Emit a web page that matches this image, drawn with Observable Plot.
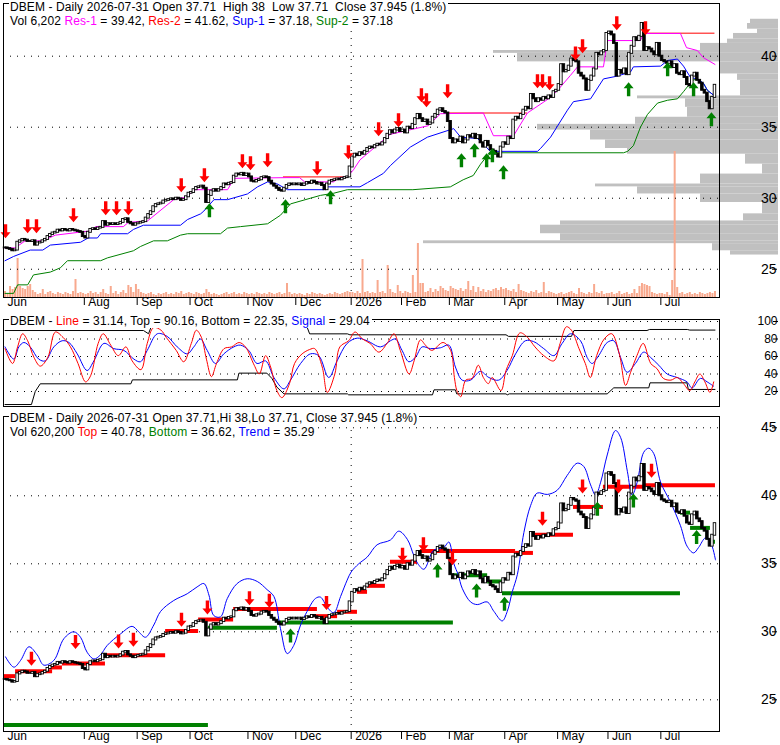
<!DOCTYPE html>
<html><head><meta charset="utf-8">
<script src="https://cdn.jsdelivr.net/npm/d3@7"></script>
<script src="https://cdn.jsdelivr.net/npm/@observablehq/plot@0.6"></script>
<style>
body{margin:0;background:#fff;}
#chart{position:relative;width:780px;height:745px;overflow:hidden;font-family:"Liberation Sans",Arial,sans-serif;background:#fff;}
.ttl{position:absolute;left:9px;font-size:12px;line-height:14px;white-space:pre;background:#fff;padding:0 2px 0 1px;color:#000;letter-spacing:0.1px;}
</style></head><body><div id="chart"></div><script>
// ---------- data ----------
const monthLabels = ["Jun","Jul","Aug","Sep","Oct","Nov","Dec","2026","Feb","Mar","Apr","May","Jun","Jul"];
const closeJun25 = [26.5,26.45,26.4,26.3,26.35,26.9,27.0,27.1,27.05,26.95];
const closeJul25 = [26.95,27.0,26.7,26.85,26.9,27.0,27.1,27.3,27.45,27.55,27.6,27.75,27.7,27.8,27.75,27.7,27.8,27.75,27.7,27.65,27.6,27.3];
const closeAug25 = [27.2,27.6,27.8,27.85,27.8,27.9,27.95,28.35,28.1,28.2,28.15,28.2,28.15,28.2,28.3,28.5,28.55,28.3,28.2,28.1,28.2];
const closeSep25 = [28.25,28.3,28.35,28.6,28.85,29.05,29.4,29.55,29.6,29.65,29.8,29.85,29.9,29.95,29.9,30.0,29.95,29.85,29.9,30.1,30.35];
const closeOct25 = [30.4,30.6,30.75,30.8,30.85,30.7,29.7,30.2,30.5,30.6,30.5,30.6,30.75,31.0,30.95,31.05,31.1,31.55,31.7,31.65,31.75,31.6,31.7];
const closeNov25 = [31.5,31.2,31.15,31.25,31.3,31.45,31.5,31.45,31.2,31.0,30.85,30.7,30.55,30.5,30.7,30.9,31.0,30.95,31.0];
const closeDec25 = [30.95,31.0,30.9,31.0,31.1,31.05,31.2,31.1,31.0,31.05,30.9,30.6,31.0,31.2,31.25,31.3,31.35,31.3,31.4,31.45,31.5,32.2];
const closeJan26 = [32.9,33.1,33.0,33.2,33.1,33.3,33.5,33.6,33.55,33.7,33.8,33.75,33.9,34.2,34.5,34.75,34.6,34.8,34.9,34.7];
const closeFeb26 = [34.8,34.6,35.0,34.9,35.2,35.6,35.9,35.6,35.4,35.5,35.2,35.3,35.7,35.9,36.2,36.3,36.1,36.0,35.4];
const closeMar26 = [34.2,33.9,34.1,34.0,34.3,33.9,34.1,34.4,34.3,34.5,34.2,34.4,33.9,33.6,34.0,33.7,33.4,33.3,33.1,32.9,33.6,33.9];
const closeApr26 = [33.8,34.3,34.2,35.5,35.7,35.6,35.9,36.2,36.4,36.3,37.3,37.0,36.8,37.0,36.9,37.1,37.0,37.2,37.1,37.5,37.6];
const closeMay26 = [38.0,39.4,38.9,39.0,39.3,39.8,39.7,39.6,38.8,38.6,38.4,37.6,38.3,38.6,39.1,40.2,40.1,40.3,40.4,41.6];
const closeJun26 = [41.7,41.5,40.9,38.6,39.0,38.8,39.1,38.7,40.2,40.7,41.3,41.1,41.4,42.3,40.4,40.6,40.5,40.3,40.1,40.9,40.0];
const closeJul26 = [39.7,39.6,39.5,39.6,39.2,39.4,38.8,38.7,38.9,38.5,38.0,37.9,38.6,38.8,38.3,38.1,37.6,37.4,36.8,36.3,37.1,37.95];

const volJun25 = [6,4,11,8,10,39,11,9,8,11];
const volJul25 = [13,7,5,3,4,8,3,5,6,4,3,5,4,3,5,4,3,6,18,4,5,4];
const volAug25 = [3,4,6,4,5,3,5,8,4,3,11,4,6,3,5,7,4,12,10,5,13];
const volSep25 = [8,5,4,3,4,5,3,2,4,3,4,5,3,4,3,5,4,6,3,4,5];
const volOct25 = [4,3,5,4,3,4,8,5,3,4,3,2,3,4,5,3,4,5,3,4,3,5,4];
const volNov25 = [3,4,3,5,4,3,4,3,5,4,3,4,5,3,4,14,5,3,4];
const volDec25 = [3,4,3,2,4,3,5,4,3,4,3,2,3,4,3,5,4,3,4,5,6,5];
const volJan26 = [5,4,6,4,38,5,6,4,5,4,17,5,6,4,32,8,5,4,12,6];
const volFeb26 = [4,6,5,4,22,5,54,14,14,5,6,9,5,8,6,11,9,7,6];
const volMar26 = [11,9,8,7,9,6,8,16,7,11,5,10,6,8,5,7,6,8,9,7,10,8];
const volApr26 = [9,7,6,8,5,13,7,6,5,4,6,5,7,4,5,15,4,6,5,4,3];
const volMay26 = [4,5,3,4,5,6,4,3,9,5,4,3,5,4,13,5,4,6,3,4];
const volJun26 = [4,5,3,4,6,3,4,5,3,4,8,4,11,14,13,12,11,5,4,3,4];
const volJul26 = [4,3,5,2,17,146,10,4,5,3,4,5,3,4,3,5,4,3,4,5,4,6];

// volume-by-price profile (price bin low / high, relative volume)
const vpLow  = [26.0,26.3,26.8,27.0,27.5,28.1,28.4,28.9,29.7,30.3,30.8,31.0,31.7,32.4,33.1,33.5,34.1,34.8,35.2,35.7,36.4,37.0,37.2,38.3,38.75,39.6,40.2,40.4,40.9,41.2,41.6,41.9,42.3];
const vpHigh = [26.3,26.8,27.0,27.5,28.1,28.4,28.9,29.7,30.3,30.8,31.0,31.7,32.4,33.1,33.5,34.1,34.8,35.2,35.7,36.4,37.0,37.2,38.3,38.75,39.6,40.2,40.4,40.9,41.2,41.6,41.9,42.3,42.6];
const vpVol  = [48,66,355,218,238,218,35,16,78,141,183,78,16,33,151,173,188,241,143,91,93,141,38,41,58,261,285,78,51,45,21,31,28];

// panel 1 overlays: [trading-day index, price]
const res1 = [[0,26.5],[4,26.5],[8,27.0],[15,27.0],[20,27.4],[34,27.7],[36,28.0],[47,28.0],[49,28.3],[56.6,28.4],[67,29.9],[72.5,30.1],[75,30.6],[88.4,30.6],[91,31.4],[112,31.45],[117,31.45],[119,31.15],[130.5,31.15],[133,31.45],[136,31.5],[138.4,32.0],[141,32.7],[147,33.6],[153,34.5],[168,35.1],[173,35.95],[190,36.0],[194,34.4],[202,34.4],[207.5,36.0],[216.7,37.1],[219.5,37.6],[224.6,38.65],[227.4,39.25],[237.7,39.25],[239.3,41.1],[252.4,41.1],[253.6,41.6],[268.3,41.6],[270.7,40.6],[275,40.4],[277.4,39.9],[282,39.42]];
const res2 = [[110.6,136,31.5],[175.8,207.5,36.0],[254,282,41.62]];
const sup1 = [[0,25.6],[3.4,25.9],[10,26.35],[15,26.35],[18,26.7],[30,26.9],[33,27.2],[36.7,27.2],[38,27.5],[48.7,27.5],[51,27.8],[55,28.1],[69.7,28.1],[72.5,28.5],[77.7,28.9],[79,29.1],[83,29.9],[88.4,29.9],[96.3,30.3],[100.3,30.8],[104.3,31.15],[108.2,31.0],[112.2,30.6],[126.5,30.6],[128,30.8],[141,30.8],[144,31.1],[150.3,31.75],[153.1,32.3],[161,33.6],[167.8,34.3],[178.2,34.9],[181,34.3],[187.7,34.2],[190,33.8],[192.8,33.3],[211.5,33.3],[212.7,33.5],[216.7,34.3],[223.4,36.2],[225.8,36.8],[232.6,37.0],[237.7,38.4],[243.3,38.6],[248.5,38.9],[249.6,39.25],[260.4,39.3],[263.2,39.7],[267.1,39.8],[269.5,39.3],[272.3,38.5],[275,38.4],[277.4,38.1],[279,37.6],[282,37.18]];
const sup2 = [[0,23.3],[3.4,23.3],[5,23.9],[9,23.9],[11.3,24.6],[18,24.8],[22,25.1],[24.8,25.6],[38,25.6],[40.7,25.8],[51,26.3],[53.8,26.6],[59,27.0],[64.5,27.0],[69.7,27.4],[72.5,27.5],[85.6,27.5],[88.4,27.9],[93.5,28.0],[104.3,28.2],[109.4,28.8],[113.4,29.6],[121.3,30.0],[125.3,30.2],[130.5,30.35],[136,30.6],[162,30.6],[176.9,30.8],[182,31.3],[186,31.6],[188.9,32.4],[191.6,33.0],[194,33.2],[245.7,33.2],[247.3,33.3],[249.6,33.7],[252.4,35.0],[255.2,35.9],[259.2,36.7],[263.2,36.9],[267.1,37.0],[269.5,37.5],[271.5,37.95],[273,38.3],[275,38.4],[277.4,38.1],[279,37.6],[282,37.18]];
const sellArrows1 = [[0.2,27.18],[9,27.54],[12.5,27.54],[27.2,28.31],[40,28.8],[44.3,28.8],[49,28.8],[70,30.42],[79.2,31.13],[94.3,32.11],[97.5,31.97],[104.3,32.18],[124,31.62],[136.4,32.75],[148.4,34.37],[156.3,35.0],[165.4,36.76],[167.4,36.4],[175.8,37.04],[211.5,37.75],[213.5,37.75],[216.3,37.6],[226.6,39.7],[229.4,40.2],[243,41.83],[254.4,41.48]];
const buyArrows1 = [[81.2,29.65],[111.4,29.93],[129.3,30.56],[181.3,33.17],[186.5,33.87],[191.3,33.17],[193.6,33.52],[198,32.32],[247.7,38.17],[263.2,39.58],[273.5,38.17],[280.6,36.06]];

// panel 2 oscillator: [index, value]
const oscLine = [[0,69],[3,52],[5,71],[7,86],[9,78],[11.5,59],[14,49],[17,59],[20,88],[23,82],[26,71],[29,52],[32,31],[34,38],[37,75],[39,86],[42,73],[45,61],[48,71],[50.5,55],[54,45],[56.5,75],[59,93],[62,90],[64,82],[68,67],[71,54],[74,75],[76,90],[78,82],[80,57],[82,37],[84,52],[87,69],[90,71],[93,76],[95.5,71],[99,50],[101,40],[103.5,61],[105.5,48],[108,21],[110,13],[113,29],[115,52],[118,63],[121,68],[123,69],[126,48],[128,19],[131,40],[133,71],[136.5,78],[139,88],[142,80],[145,75],[148.5,65],[152,76],[154.5,86],[157,67],[160.5,40],[162.5,55],[165,79],[167,73],[169.5,67],[174,76],[177,67],[178.5,36],[179.5,21],[181,14],[183,33],[185.5,35],[188,50],[190,36],[192,29],[193.5,36],[197,21],[199,44],[201.5,61],[204.5,87],[207.5,82],[210.5,71],[214,61],[218,55],[220.5,75],[223,94],[225,90],[228,69],[230.5,52],[232.5,36],[235,61],[238,80],[241,86],[244,63],[246.5,27],[248.5,42],[251,61],[253.5,75],[256.5,52],[259,46],[261.5,35],[264.5,33],[267,36],[269.5,29],[272,21],[274,31],[276,40],[278,31],[280,19],[281.5,31]];
const oscSignal = [[0,71],[3.5,57],[5.5,71],[7.5,76],[10,71],[13.4,57],[16,55],[19.4,71],[22.7,78],[25.4,76],[28.7,63],[32.6,44],[35.3,55],[39.3,75],[43.2,69],[47.2,67],[51.2,57],[53.8,54],[56.5,67],[60.5,86],[64.4,83],[68.4,71],[72.4,63],[75,71],[77.6,80],[80.3,67],[83.6,52],[86.9,63],[90.9,71],[93.5,73],[96.8,67],[100.1,52],[103.5,55],[106.8,36],[110.8,23],[113.4,33],[117.4,52],[121.3,63],[124.6,61],[128.6,36],[131.9,55],[135.9,75],[139.9,81],[143.8,78],[149.2,71],[153.1,78],[155.1,80],[157.7,67],[160.4,54],[163,59],[165.7,71],[169,69],[173,70],[176.3,73],[178.9,48],[181.6,33],[184.9,33],[188.8,43],[192.2,36],[196.1,33],[199.4,44],[202.8,63],[206.7,78],[210,77],[214,69],[218,61],[221.3,75],[224.6,86],[228.6,78],[231.2,59],[233.2,52],[235.8,61],[239.2,76],[241.8,78],[244.5,59],[247.1,42],[250.4,52],[253.7,65],[256.4,59],[259.7,50],[263,40],[267,36],[270.9,31],[272.9,24],[276.2,35],[278.9,31],[281.5,26]];
const oscTop = [[0,89.7],[55,89.7],[57,86],[58,93.5],[120,93.5],[121,85.9],[136,85.9],[137,84.8],[199,84.8],[200,83],[225,83],[226,89.7],[255,89.7],[256,90.9],[271,90.9],[272,90.2],[282,90.2]];
const oscBottom = [[0,5.1],[10.5,5.1],[12,20],[14,28.8],[50,28.8],[50.6,33.3],[92.3,33.3],[92.9,41],[104,41],[106,35],[108,25],[110.8,17.3],[136,17.3],[136.5,16.2],[169.8,16.2],[170.4,21.9],[178.9,21.9],[179.4,17.3],[199,17.3],[199.5,16.2],[200.3,17.3],[239.2,17.3],[241.8,24.2],[255.7,24.2],[256.2,29.9],[270.9,29.9],[271.4,22.35],[282,22.35]];

// panel 3 overlays
const trend = [[0.2,28.16],[3.5,27.4],[6.2,27.9],[9.5,28.9],[12.8,28.3],[15.4,27.55],[19.4,27.9],[23.4,29.5],[27.3,30.0],[30,29.6],[32.6,28.5],[35.3,28.0],[37.9,28.3],[40.6,29.0],[45.9,29.85],[50.5,30.4],[53.1,30.0],[55.8,29.6],[59.1,30.5],[61.8,31.5],[67,32.3],[72.4,32.8],[76.3,33.3],[79,33.55],[81,32.7],[82.9,31.2],[85.6,31.1],[88.3,32.45],[92.2,33.55],[96.2,33.9],[100.2,33.7],[104.1,33.1],[106.8,32.6],[109.4,30.25],[112.1,28.4],[114.7,29.0],[117.4,30.5],[120,31.5],[123.3,32.45],[125.3,32.55],[128,31.8],[130.6,31.4],[133.3,32.6],[135.9,33.8],[137.5,34.4],[140.5,35.0],[143.9,35.5],[147.8,36.4],[153.1,36.75],[156.4,37.4],[159.8,36.8],[162.4,35.6],[164,35.0],[166.4,34.6],[170.3,36.0],[174.3,36.2],[176.3,36.6],[178.3,35.0],[180,34.2],[181.6,33.2],[184.9,32.2],[187.6,32.0],[191.5,32.2],[194.2,31.5],[197.5,30.8],[199.5,31.5],[201.5,32.95],[203.5,34.2],[206.1,37.3],[208.8,39.3],[211.4,40.2],[215.4,40.1],[219.3,40.4],[223.3,41.5],[227.3,42.4],[229.9,42.15],[232.6,40.8],[234.6,40.05],[236.6,41.0],[239.2,43.0],[242.5,44.8],[244.5,44.3],[247.2,41.8],[249.1,40.05],[251.1,41.0],[253.7,43.2],[255.7,43.5],[257.7,43.1],[260.4,41.0],[264.3,39.55],[268.3,37.8],[270.9,36.3],[273.5,35.8],[275.5,36.2],[278.2,36.9],[280.2,36.6],[282.2,35.29]];
const topLevels = [[-0.6,4.2,26.74],[4.2,18.9,27.1],[18.1,22.8,27.38],[22.8,39.9,27.67],[39.9,63.8,28.28],[63.8,76.9,30.05],[76.9,90.8,30.9],[90.8,124.1,31.67],[123.3,132.1,31.15],[132.1,140,31.47],[140,144,32.94],[144,151.1,33.38],[153.1,163.8,35.15],[165,202.8,35.95],[202.8,209.9,35.8],[209.9,225.8,37.14],[225.8,237.7,39.18],[237.7,253.6,40.67],[253.6,282.2,40.78]];
const bottomLevels = [[-0.6,80.8,23.14],[80.8,108.2,30.29],[108.2,178.1,30.69],[178.1,191.7,34.15],[191.7,197.6,33.7],[197.6,268.3,32.83],[268.3,272.3,38.76],[272.3,280.2,37.64],[280.2,282.2,36.62]];
const sellArrows3 = [[10.5,27.5],[28,28.73],[45.1,28.78],[51,28.9],[70.1,30.37],[80.4,31.28],[97.1,31.96],[105,31.76],[127.7,31.6],[157.9,35.15],[166.2,35.93],[177.7,34.9],[213.5,37.8],[229.4,40.17],[243.7,40.17],[256.8,41.32]];
const buyArrows3 = [[113.4,30.25],[171.8,35.03],[187.3,33.56],[198.4,32.57],[235.3,39.56],[249.6,40.17],[274.7,37.48]];

// ---------- derived tables ----------
const closeMonths = [closeJun25,closeJul25,closeAug25,closeSep25,closeOct25,closeNov25,closeDec25,closeJan26,closeFeb26,closeMar26,closeApr26,closeMay26,closeJun26,closeJul26];
const volMonths = [volJun25,volJul25,volAug25,volSep25,volOct25,volNov25,volDec25,volJan26,volFeb26,volMar26,volApr26,volMay26,volJun26,volJul26];
const closes = closeMonths.flat();
const volumes = volMonths.flat();
const bars = closes.map((c, i) => ({i, open: i ? closes[i - 1] : c, close: c, vol: volumes[i] ?? 0}));
let cum = 0;
const monthStart = closeMonths.map(m => { const s = cum; cum += m.length; return s; });
const xDom = [-0.6, closes.length + 0.8];
const labelsData = [{pos: xDom[0], label: monthLabels[0]}].concat(
  monthStart.map((s, k) => ({pos: s - 0.5, label: monthLabels[k]})).slice(2));
const tickPos = labelsData.slice(1).map(d => d.pos);
const newYear = monthStart[7] - 0.5;
const vp = vpLow.map((lo, k) => ({lo, hi: vpHigh[k], v: vpVol[k]}));

// ---------- helpers ----------
const arrowDown = {draw(c){c.moveTo(0,0);c.lineTo(-5,-6);c.lineTo(-1.7,-6);c.lineTo(-1.7,-14);c.lineTo(1.7,-14);c.lineTo(1.7,-6);c.lineTo(5,-6);c.closePath();}};
const arrowUp = {draw(c){c.moveTo(0,0);c.lineTo(-5,6);c.lineTo(-1.7,6);c.lineTo(-1.7,14);c.lineTo(1.7,14);c.lineTo(1.7,6);c.lineTo(5,6);c.closePath();}};
const RED = "#ff0000", GREEN = "#008000", BLUE = "#0000ff", MAG = "#ff00ff";
const font = {fontFamily: "'Liberation Sans', Arial, sans-serif", fontSize: "12px", background: "transparent", overflow: "visible"};
const chart = document.getElementById("chart");
function place(svg, top) { svg.style.position = "absolute"; svg.style.left = "0px"; svg.style.top = top + "px"; chart.appendChild(svg); }
const X = d => d[0], Y = d => d[1];
const grid = (vals) => Plot.ruleY(vals, {stroke: "#000", strokeDasharray: "1,6"});
const candles = () => Plot.rect(bars, {x1: d => d.i - 0.5, x2: d => d.i + 0.5, y1: "open", y2: "close", insetTop: -0.5, insetBottom: -0.5,
  fill: d => d.close >= d.open ? "#fff" : "#000", stroke: "#000", strokeWidth: 0.9});
const monthAxis = () => [
  Plot.axisX({ticks: tickPos, tickSize: 8, tickFormat: () => "", label: null, stroke: "#000"}),
  Plot.text(labelsData, {x: "pos", text: "label", frameAnchor: "bottom", dx: 4, dy: 8, textAnchor: "start", fontSize: 12, fill: "#000"})
];
const rightAxis = (ticks, fs, dx) => Plot.axisY({ticks, anchor: "right", tickSize: 5, tickPadding: 0, textAnchor: "end", dx, fontSize: fs, label: null, tickFormat: d => String(d)});

const P1 = {width: 780, height: 312, marginTop: 3, marginBottom: 15};
const yP1 = [23.01, 43.71];

// ---------- panel 1: volume-by-price ----------
place(Plot.plot({...P1, marginLeft: 0, marginRight: 2, style: font,
  x: {domain: [0, 778], reverse: true, axis: null}, y: {domain: yP1, axis: null},
  marks: [Plot.rect(vp, {x1: 0, x2: "v", y1: "lo", y2: "hi", fill: "#c0c0c0"})]}), 0);

// ---------- panel 1: volume ----------
place(Plot.plot({...P1, marginLeft: 3, marginRight: 61, style: font,
  x: {domain: xDom, axis: null}, y: {domain: [0, 294], axis: null},
  marks: [Plot.ruleX(bars, {x: "i", y1: 0, y2: "vol", stroke: "#f8a98e", strokeWidth: 2})]}), 0);

// ---------- panel 1: price ----------
place(Plot.plot({...P1, marginLeft: 3, marginRight: 61, style: font,
  x: {domain: xDom}, y: {domain: yP1},
  marks: [
    grid([25, 30, 35, 40]),
    Plot.ruleX([newYear], {stroke: "#000", strokeDasharray: "1,6"}),
    Plot.line(sup2, {x: X, y: Y, stroke: GREEN, strokeWidth: 1}),
    Plot.line(sup1, {x: X, y: Y, stroke: BLUE, strokeWidth: 1}),
    Plot.ruleY(res2, {x1: d => d[0], x2: d => d[1], y: d => d[2], stroke: RED, strokeWidth: 1}),
    Plot.line(res1, {x: X, y: Y, stroke: MAG, strokeWidth: 1}),
    candles(),
    Plot.dot(sellArrows1, {x: X, y: Y, symbol: arrowDown, fill: RED, stroke: "none", r: 5}),
    Plot.dot(buyArrows1, {x: X, y: Y, symbol: arrowUp, fill: GREEN, stroke: "none", r: 5}),
    Plot.frame({stroke: "#000"}),
    rightAxis([25, 30, 35, 40], 14, 52),
    ...monthAxis()
  ]}), 0);

// ---------- panel 2: oscillator ----------
place(Plot.plot({width: 780, height: 98, marginTop: 7, marginBottom: 4, marginLeft: 3, marginRight: 61, style: font,
  x: {domain: xDom}, y: {domain: [2.86, 102.3]},
  marks: [
    grid([20, 40, 60, 80, 100]),
    Plot.line(oscTop, {x: X, y: Y, stroke: "#000", strokeWidth: 1}),
    Plot.line(oscBottom, {x: X, y: Y, stroke: "#000", strokeWidth: 1}),
    Plot.line(oscSignal, {x: X, y: Y, stroke: BLUE, strokeWidth: 1, curve: "catmull-rom"}),
    Plot.line(oscLine, {x: X, y: Y, stroke: RED, strokeWidth: 1, curve: "catmull-rom"}),
    Plot.frame({stroke: "#000"}),
    rightAxis([20, 40, 60, 80, 100], 12, 53),
    Plot.axisX({ticks: [], label: null})
  ]}), 312);

// ---------- panel 3: price with levels ----------
place(Plot.plot({width: 780, height: 340, marginTop: 11, marginBottom: 14, marginLeft: 3, marginRight: 61, style: font,
  x: {domain: xDom}, y: {domain: [22.67, 45.83]},
  marks: [
    grid([25, 30, 35, 40, 45]),
    Plot.ruleX([newYear], {stroke: "#000", strokeDasharray: "1,6"}),
    Plot.ruleY(bottomLevels, {x1: d => d[0], x2: d => d[1], y: d => d[2], stroke: GREEN, strokeWidth: 4}),
    Plot.ruleY(topLevels, {x1: d => d[0], x2: d => d[1], y: d => d[2], stroke: RED, strokeWidth: 4}),
    Plot.line(trend, {x: X, y: Y, stroke: BLUE, strokeWidth: 1, curve: "catmull-rom"}),
    candles(),
    Plot.dot(sellArrows3, {x: X, y: Y, symbol: arrowDown, fill: RED, stroke: "none", r: 5}),
    Plot.dot(buyArrows3, {x: X, y: Y, symbol: arrowUp, fill: GREEN, stroke: "none", r: 5}),
    Plot.frame({stroke: "#000"}),
    rightAxis([25, 30, 35, 40, 45], 14, 52),
    ...monthAxis()
  ]}), 405);

// ---------- titles ----------
function title(top, html) { const d = document.createElement("div"); d.className = "ttl"; d.style.top = top + "px"; d.innerHTML = html; chart.appendChild(d); }
const c = (col, t) => `<span style="color:${col}">${t}</span>`;
title(0, "DBEM - Daily 2026-07-31 Open 37.71  High 38  Low 37.71  Close 37.945 (1.8%)");
title(13.5, `Vol 6,202 ${c(MAG,"Res-1")} = 39.42, ${c(RED,"Res-2")} = 41.62, ${c(BLUE,"Sup-1")} = 37.18, ${c(GREEN,"Sup-2")} = 37.18`);
title(314, `DBEM - ${c(RED,"Line")} = 31.14, Top = 90.16, Bottom = 22.35, ${c(BLUE,"Signal")} = 29.04`);
title(411, "DBEM - Daily 2026-07-31 Open 37.71,Hi 38,Lo 37.71, Close 37.945 (1.8%)");
title(424.5, `Vol 620,200 ${c(RED,"Top")} = 40.78, ${c(GREEN,"Bottom")} = 36.62, ${c(BLUE,"Trend")} = 35.29`);
</script></body></html>
